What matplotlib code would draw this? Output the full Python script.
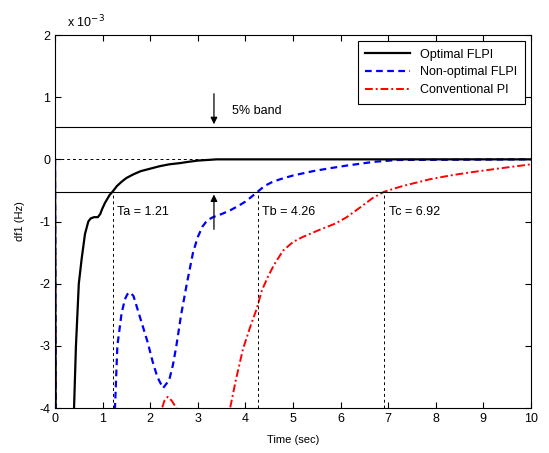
"""Frequency deviation response: FLPI vs conventional PI"""
import matplotlib
matplotlib.use('Agg')
import matplotlib.pyplot as plt

plt.rcParams['font.family'] = ['Liberation Sans', 'DejaVu Sans']
plt.rcParams['font.size'] = 8
plt.rcParams['axes.unicode_minus'] = False

# values are in units of 1e-3 Hz
t_opt = [0, 0.02, 0.3, 0.4, 0.44, 0.5, 0.56, 0.63, 0.7, 0.75, 0.82, 0.9, 0.95, 0.99, 1.05,
         1.15, 1.21, 1.3, 1.4, 1.5, 1.65, 1.8, 2.0, 2.2, 2.4, 2.63, 2.8, 3.0, 3.2, 3.4, 10]
df_opt = [0, -6, -6, -4.0, -3.0, -2.0, -1.6, -1.2, -1.0, -0.95, -0.93, -0.93, -0.88, -0.8, -0.7,
          -0.57, -0.52, -0.43, -0.36, -0.30, -0.24, -0.19, -0.15, -0.11, -0.08, -0.06, -0.04,
          -0.02, -0.01, 0, 0]

t_nonopt = [0, 0.02, 1.2, 1.26, 1.31, 1.4, 1.47, 1.52, 1.58, 1.65, 1.75, 1.85, 1.95, 2.05,
            2.15, 2.27, 2.4, 2.48, 2.55, 2.65, 2.77, 2.9, 3.0, 3.1, 3.2, 3.32, 3.5, 3.68, 3.85,
            4.0, 4.1, 4.26, 4.4, 4.55, 4.73, 5.0, 5.42, 5.8, 6.13, 6.7, 7.2, 10]
df_nonopt = [0, -6, -6, -4.0, -3.0, -2.47, -2.25, -2.17, -2.14, -2.2, -2.45, -2.7, -2.95, -3.25,
             -3.5, -3.68, -3.55, -3.3, -3.0, -2.5, -2.0, -1.5, -1.25, -1.08, -0.98, -0.93, -0.88,
             -0.82, -0.75, -0.68, -0.62, -0.52, -0.43, -0.37, -0.32, -0.26, -0.19, -0.14, -0.1,
             -0.04, -0.01, 0]

t_pi = [0, 0.02, 2.2, 2.25, 2.3, 2.37, 2.45, 2.55, 2.6, 3.6, 3.68, 3.8, 3.95, 4.1, 4.24, 4.35,
        4.48, 4.6, 4.79, 5.0, 5.2, 5.57, 5.9, 6.13, 6.4, 6.68, 6.92, 7.3, 7.88, 8.3, 8.72, 9.3, 10]
df_pi = [0, -6, -6, -4.0, -3.88, -3.82, -3.88, -4.0, -6, -6, -4.0, -3.55, -3.05, -2.7, -2.4,
         -2.1, -1.88, -1.7, -1.47, -1.33, -1.25, -1.13, -1.03, -0.93, -0.78, -0.62, -0.52, -0.43,
         -0.32, -0.26, -0.21, -0.15, -0.08]

band = 0.52
settle_names = ['Ta', 'Tb', 'Tc']
settle_times = [1.21, 4.26, 6.92]

fig = plt.figure(figsize=(5.49, 4.53), dpi=100)
ax = fig.add_axes([0.1002, 0.0993, 0.8668, 0.8234])

ax.plot(t_opt, df_opt, color='black', lw=1.6, label='Optimal FLPI', zorder=4)
ax.plot(t_nonopt, df_nonopt, color='blue', lw=1.6, ls=(0, (3, 2)), label='Non-optimal FLPI', zorder=3)
ax.plot(t_pi, df_pi, color='red', lw=1.4, ls=(0, (4, 1.5, 1, 1.5)), label='Conventional PI', zorder=2)

ax.axhline(band, color='black', lw=0.8)
ax.axhline(-band, color='black', lw=0.8)
ax.plot([0, 3.3], [0, 0], color='black', lw=0.7, ls=(0, (3, 3)))

for name, ts in zip(settle_names, settle_times):
    ax.plot([ts, ts], [-4, -band], color='black', lw=0.7, ls=(0, (3, 3)))
    ax.text(ts + 0.1, -0.85, '%s = %.2f' % (name, ts), fontsize=9, va='center')

ax.annotate('', xy=(3.34, band), xytext=(3.34, 1.1),
            arrowprops=dict(arrowstyle='-|>', color='black', lw=0.9, mutation_scale=10))
ax.annotate('', xy=(3.34, -band), xytext=(3.34, -1.17),
            arrowprops=dict(arrowstyle='-|>', color='black', lw=0.9, mutation_scale=10))
ax.text(3.72, 0.77, '5% band', fontsize=9, va='center')

ax.set_xlim(0, 10)
ax.set_ylim(-4, 2)
ax.set_xticks(range(0, 11))
ax.set_yticks(range(-4, 3))
ax.tick_params(direction='in', top=True, right=True, labelsize=9, length=4)
ax.set_xlabel('Time (sec)', fontsize=8, labelpad=7)
ax.set_ylabel('df1 (Hz)', fontsize=8, labelpad=10)
ax.text(0.025, 1.012, r'x 10$^{-3}$', transform=ax.transAxes, fontsize=9, va='bottom')

leg = ax.legend(loc='upper right', fontsize=9, fancybox=False, edgecolor='black',
                framealpha=1, handlelength=3.6, borderaxespad=0.5, borderpad=0.6,
                labelspacing=0.45)
leg.get_frame().set_linewidth(0.8)

plt.savefig('out.png', dpi=100)
plt.close()
